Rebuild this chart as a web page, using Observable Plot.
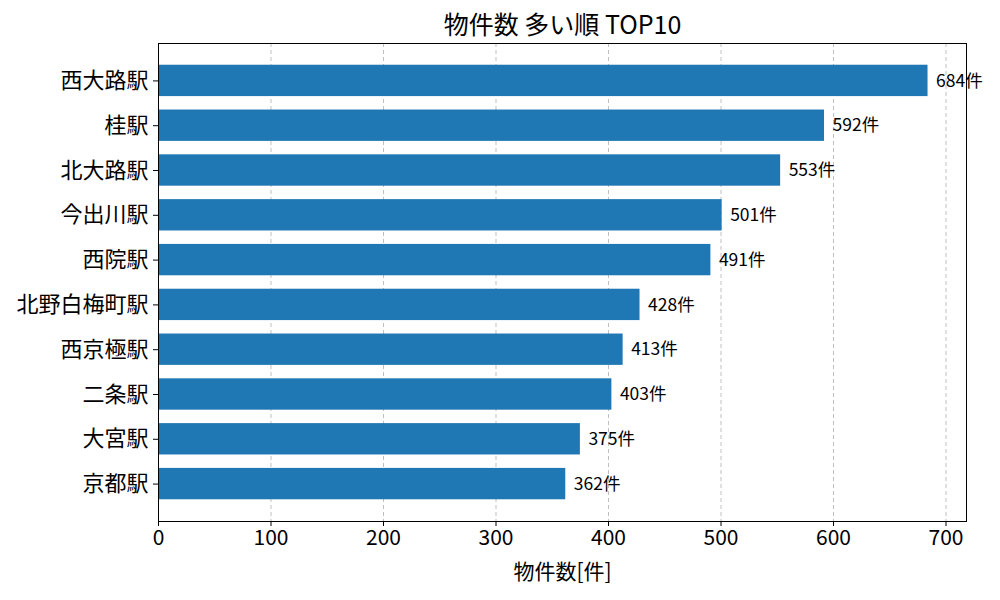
<!DOCTYPE html>
<html>
<head>
<meta charset="utf-8">
<script src="https://cdn.jsdelivr.net/npm/d3@7"></script>
<script src="https://cdn.jsdelivr.net/npm/@observablehq/plot@0.6"></script>
<style>
  body { margin: 0; background: white; }
</style>
</head>
<body>
<div id="chart"></div>
<script>
const stations = ["西大路駅", "桂駅", "北大路駅", "今出川駅", "西院駅", "北野白梅町駅", "西京極駅", "二条駅", "大宮駅", "京都駅"];
const counts = [684, 592, 553, 501, 491, 428, 413, 403, 375, 362];
const xTicks = [0, 100, 200, 300, 400, 500, 600, 700];
const titleText = "物件数 多い順 TOP10";
const xLabel = "物件数[件]";
const unit = "件";

const data = stations.map((s, i) => ({station: s, count: counts[i]}));
const font = "'Noto Sans CJK JP', 'Noto Sans', sans-serif";

const chart = Plot.plot({
  width: 1000,
  height: 600,
  marginLeft: 158,
  marginRight: 34,
  marginTop: 43,
  marginBottom: 79,
  style: {fontFamily: font, fontSize: "21px", background: "white", color: "black"},
  x: {domain: [0, 718.2], ticks: xTicks},
  y: {domain: stations, paddingInner: 0.3, paddingOuter: 0.485, round: false},
  marks: [
    Plot.gridX(xTicks, {stroke: "#b0b0b0", strokeOpacity: 0.8, strokeDasharray: "4,3"}),
    Plot.barX(data, {x: "count", y: "station", fill: "#1f77b4"}),
    Plot.text(data, {x: "count", y: "station", text: d => d.count + unit, dx: 8, textAnchor: "start", fontSize: 17.5, fill: "black"}),
    Plot.axisX({ticks: xTicks, tickSize: 5, tickPadding: 4, fontSize: 21, label: xLabel, labelAnchor: "center", labelArrow: "none", labelOffset: 57, tickFormat: d => String(d)}),
    Plot.axisY({tickSize: 5, tickPadding: 5, fontSize: 22, label: null}),
    Plot.frame({stroke: "black"}),
    Plot.text([titleText], {frameAnchor: "top", lineAnchor: "middle", dy: -18, fontSize: 25, fill: "black"})
  ]
});
document.getElementById("chart").appendChild(chart);
</script>
</body>
</html>
